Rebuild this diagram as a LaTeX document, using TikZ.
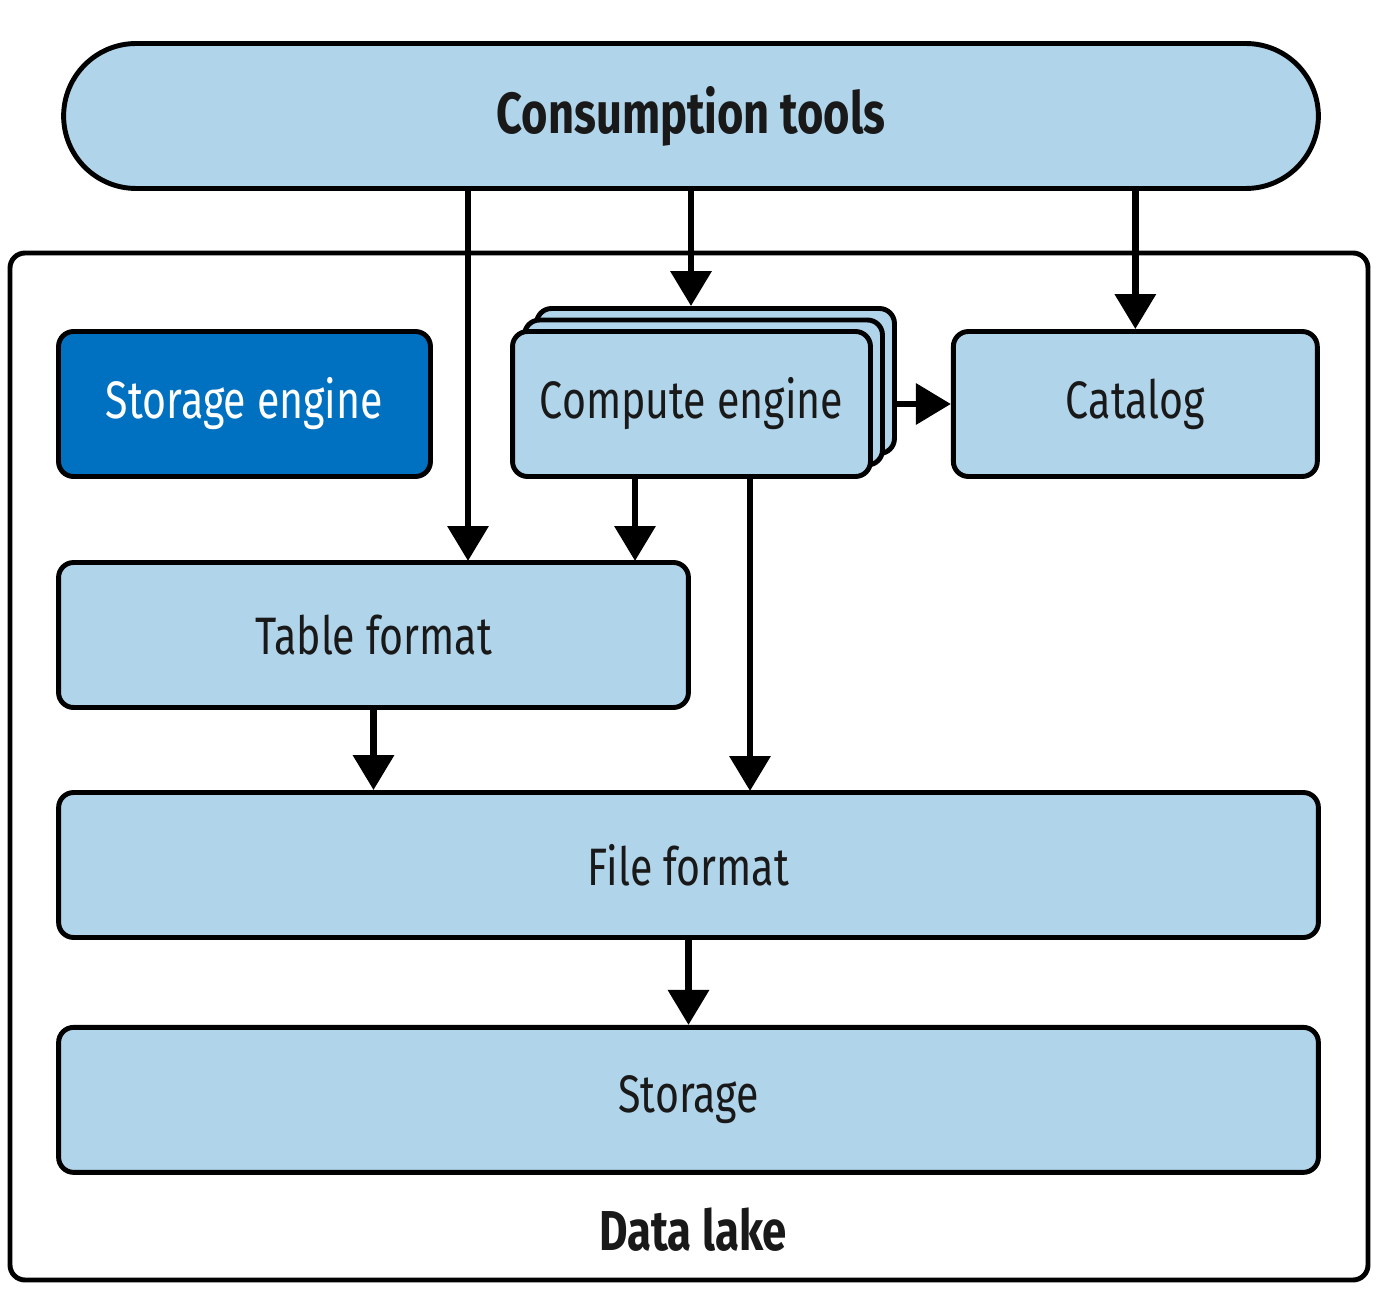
\documentclass[tikz,border=0pt]{standalone}
\usepackage{fontspec}
\setmainfont{Fira Sans}[FakeStretch=0.78]
\usetikzlibrary{arrows.meta, positioning}
\definecolor{lightblue}{RGB}{176,212,234}
\definecolor{darkblue}{RGB}{0,112,192}

\begin{document}
\begin{tikzpicture}[
    x=0.02cm, y=-0.02cm,
    every node/.style={font=\fontsize{30}{32}\selectfont, text=black!90},
    layer/.style={draw=black, line width=2.8pt, fill=lightblue, rounded corners=0.3cm, minimum height=2.9cm, inner sep=0pt},
    arr/.style={line width=3.8pt, -{Triangle[width=0.8cm, length=0.7cm]}}
]
   \useasboundingbox (0,0) rectangle (1386,1300);

   % Data lake frame
   \draw[line width=2.8pt, rounded corners=0.3cm] (10,253) rectangle (1368,1280);
   \node[font=\fontsize{32}{34}\selectfont\bfseries] (lake) at (693,1230) {Data lake};

   % Consumption tools
   \node[layer, rounded corners=1.45cm, minimum width=25.1cm, font=\fontsize{33}{35}\selectfont\bfseries] (cons) at (691,116) {Consumption tools};

   % Layers
   \node[layer, fill=darkblue, text=white, minimum width=7.44cm] (seng) at (244.5,404) {Storage engine};
   \node[layer, minimum width=7.16cm] (comp3) at (715.5,381) {}; % stacked copies
   \node[layer, minimum width=7.16cm] (comp2) at (703.5,392.5) {};
   \node[layer, minimum width=7.16cm] (comp) at (691.5,404) {Compute engine};
   \node[layer, minimum width=7.28cm] (cat) [right=1.56cm of comp] {Catalog};
   \node[layer, minimum width=12.6cm] (tab) at (373.5,635) {Table format};
   \node[layer, minimum width=25.2cm] (file) at (688.5,865) {File format};
   \node[layer, minimum width=25.2cm] (stor) [below=1.7cm of file] {Storage};

   % Arrow ends
   \coordinate (tabin1) at (468,561);
   \coordinate (tabin2) at (635,561);
   \coordinate (filein) at (750,791);

   % Connectors
   \draw[arr] (tabin1 |- cons.south) -- (tabin1);
   \draw[arr] (cons.south) -- (cons.south |- comp3.north);
   \draw[arr] (cat.north |- cons.south) -- (cat.north);
   \draw[arr] (comp3.east |- cat.west) -- (cat.west);
   \draw[arr] (tabin2 |- comp.south) -- (tabin2);
   \draw[arr] (filein |- comp.south) -- (filein);
   \draw[arr] (tab.south) -- (tab.south |- file.north);
   \draw[arr] (file.south) -- (stor.north);

\end{tikzpicture}
\end{document}
